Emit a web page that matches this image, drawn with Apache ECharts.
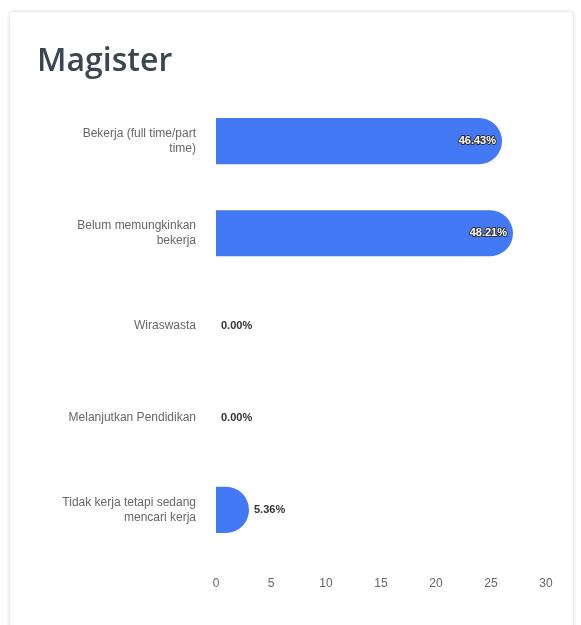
<!DOCTYPE html>
<html>
<head>
<meta charset="utf-8">
<script src="https://cdn.jsdelivr.net/npm/echarts@6/dist/echarts.min.js"></script>
<style>
  html, body { margin: 0; padding: 0; background: #ffffff; }
  #card { position: absolute; left: 10px; top: 12px; width: 563px; height: 640px;
          background: #fff; border-radius: 4px;
          box-shadow: 0 0 4px rgba(0,0,0,0.18); }
  #chart { position: absolute; left: 0; top: 0; width: 581px; height: 625px; }
</style>
</head>
<body>
<div id="card"></div>
<div id="chart"></div>
<script>
const categories = [
  'Bekerja (full time/part\ntime)',
  'Belum memungkinkan\nbekerja',
  'Wiraswasta',
  'Melanjutkan Pendidikan',
  'Tidak kerja tetapi sedang\nmencari kerja'
];
const counts = [26, 27, 0, 0, 3];
const percentLabels = ['46.43%', '48.21%', '0.00%', '0.00%', '5.36%'];
const xTicks = [0, 5, 10, 15, 20, 25, 30];

const chart = echarts.init(document.getElementById('chart'), null, { renderer: 'canvas' });
const barColor = '#4479f5';

const data = counts.map((v, i) => {
  const big = v > 10;
  return {
    value: v,
    label: big ? {
      position: 'insideRight', distance: 6, color: '#ffffff',
      textBorderColor: '#333', textBorderWidth: 2
    } : {
      position: 'right', distance: 5, color: '#333', textBorderWidth: 0
    }
  };
});

chart.setOption({
  animation: false,
  backgroundColor: 'transparent',
  title: {
    text: 'Magister', left: 32, top: 41,
    textStyle: { fontFamily: 'Open Sans', fontSize: 32, fontWeight: 600, color: '#3b4650' }
  },
  grid: { left: 216, right: 35, top: 95, bottom: 69, containLabel: false },
  xAxis: {
    type: 'value', min: xTicks[0], max: xTicks[xTicks.length - 1], interval: 5,
    axisLine: { show: false }, axisTick: { show: false }, splitLine: { show: false },
    axisLabel: { color: '#666', fontFamily: 'Liberation Sans', fontSize: 12, margin: 22 }
  },
  yAxis: {
    type: 'category', data: categories, inverse: true,
    axisLine: { show: false }, axisTick: { show: false }, splitLine: { show: false },
    axisLabel: {
      color: '#666', fontFamily: 'Liberation Sans', fontSize: 12, margin: 20,
      lineHeight: 15, align: 'right'
    }
  },
  series: [{
    type: 'bar', data: data, barWidth: '50%',
    itemStyle: { color: barColor, borderRadius: [0, 23, 23, 0] },
    label: {
      show: true, fontFamily: 'Liberation Sans', fontSize: 11, fontWeight: 'bold',
      formatter: p => percentLabels[p.dataIndex]
    }
  }]
});
</script>
</body>
</html>
